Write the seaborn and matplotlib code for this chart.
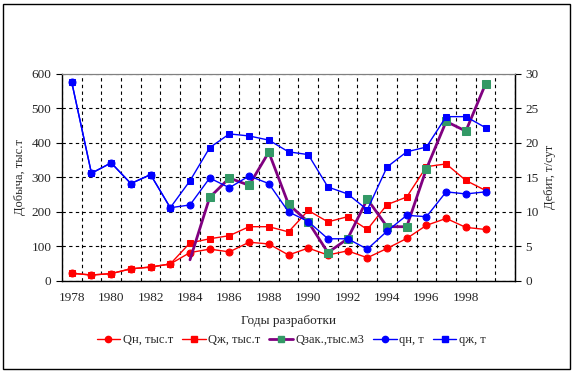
import matplotlib.pyplot as plt
import matplotlib.patches as mpatches
from matplotlib.lines import Line2D
import pandas as pd
import seaborn as sns

# ==============================================================================
# DATA
# ==============================================================================

years = list(range(1978, 2000))

# left axis, thousand tonnes / thousand m3
q_oil_total = [22, 17, 21, 35, 40, 49, 82, 92, 84, 112, 107, 75,
               95, 75, 87, 67, 94, 123, 161, 181, 155, 149]
q_liq_total = [22, 17, 21, 35, 40, 49, 110, 122, 131, 157, 157, 142,
               204, 171, 186, 149, 221, 243, 331, 339, 291, 262]
q_inj_total = [None, None, None, None, None, None, 61, 242, 298, 277, 373, 222,
               171, 82, 122, 237, 157, 157, 325, 462, 434, 571]

# right axis, t/day
rate_oil = [28.8, 15.6, 17.1, 14.1, 15.4, 10.6, 11.0, 14.9, 13.5, 15.2, 14.1, 10.0,
            8.6, 6.1, 6.1, 4.6, 7.2, 9.5, 9.3, 12.9, 12.6, 12.9]
rate_liq = [28.8, 15.6, 17.1, 14.1, 15.4, 10.6, 14.5, 19.3, 21.3, 21.0, 20.4, 18.7,
            18.3, 13.6, 12.6, 10.3, 16.5, 18.7, 19.4, 23.8, 23.8, 22.2]

labels = ["Qн, тыс.т", "Qж, тыс.т", "Qзак.,тыс.м3", "qн, т", "qж, т"]

RED = "#FF0000"
BLUE = "#0000FF"
PURPLE = "#800080"
GREEN = "#339966"


def main() -> None:
    sns.set_style("white")
    plt.rcParams["font.family"] = ["Liberation Serif", "DejaVu Serif"]
    plt.rcParams["font.size"] = 9.5

    df = pd.DataFrame({
        "idx": range(len(years)),
        "Qn": q_oil_total,
        "Qzh": q_liq_total,
        "Qzak": pd.array(q_inj_total, dtype="Float64"),
        "qn": rate_oil,
        "qzh": rate_liq,
    })
    df["Qzak"] = df["Qzak"].astype(float)

    fig = plt.figure(figsize=(5.73, 3.73), dpi=100)
    ax = fig.add_axes([0.108, 0.247, 0.791, 0.555])
    ax2 = ax.twinx()

    ms = 5
    sns.lineplot(data=df, x="idx", y="Qn", ax=ax, color=RED, lw=1, marker="o",
                 markersize=ms, markeredgecolor=RED, markerfacecolor=RED)
    sns.lineplot(data=df, x="idx", y="Qzh", ax=ax, color=RED, lw=1, marker="s",
                 markersize=ms, markeredgecolor=RED, markerfacecolor=RED)
    sub = df.dropna(subset=["Qzak"])
    sns.lineplot(data=sub, x="idx", y="Qzak", ax=ax, color=PURPLE, lw=2, marker="s",
                 markersize=ms + 0.5, markeredgecolor=GREEN, markerfacecolor=GREEN,
                 markevery=list(range(1, len(sub))))
    sns.lineplot(data=df, x="idx", y="qn", ax=ax2, color=BLUE, lw=1, marker="o",
                 markersize=ms, markeredgecolor=BLUE, markerfacecolor=BLUE)
    sns.lineplot(data=df, x="idx", y="qzh", ax=ax2, color=BLUE, lw=1, marker="s",
                 markersize=ms, markeredgecolor=BLUE, markerfacecolor=BLUE)

    n_cat = len(years) + 1
    for a in (ax, ax2):
        a.set_xlim(-0.5, n_cat - 0.5)
    ax.set_ylim(0, 600)
    ax2.set_ylim(0, 30)
    ax.set_yticks(range(0, 601, 100))
    ax2.set_yticks(range(0, 31, 5))

    ax.set_xticks(range(0, len(years), 2))
    ax.set_xticklabels([str(y) for y in years[::2]])
    ax.set_xticks([k - 0.5 for k in range(n_cat + 1)], minor=True)
    ax.tick_params(axis="x", which="major", length=0, pad=8)
    ax.tick_params(axis="x", which="minor", length=4, direction="out", color="black")
    ax.tick_params(axis="y", length=4, direction="out", left=True, color="black")
    ax2.tick_params(axis="y", length=4, direction="out", right=True, color="black")

    dash = (0, (3, 3))
    ax.grid(False)
    ax2.grid(False)
    ax.xaxis.grid(True, which="minor", color="black", linestyle=dash, lw=0.8)
    ax.yaxis.grid(True, which="major", color="black", linestyle=dash, lw=0.8)

    for side in ("left", "bottom"):
        ax.spines[side].set_color("black")
        ax.spines[side].set_linewidth(1)
    ax.spines["top"].set_color("#808080")
    ax2.spines["right"].set_color("black")
    ax2.spines["right"].set_linewidth(1)
    ax2.spines["top"].set_color("#808080")
    ax2.spines["left"].set_visible(False)
    ax2.spines["bottom"].set_visible(False)

    ax.set_xlabel("Годы разработки", labelpad=8)
    ax.set_ylabel("Добыча, тыс.т", fontsize=9)
    ax2.set_ylabel("Дебит, т/сут", fontsize=9)

    lms = 4.5
    handles = [
        Line2D([], [], color=RED, lw=1, marker="o", markersize=lms, mec=RED, mfc=RED),
        Line2D([], [], color=RED, lw=1, marker="s", markersize=lms, mec=RED, mfc=RED),
        Line2D([], [], color=PURPLE, lw=2, marker="s", markersize=lms, mec=GREEN, mfc=GREEN),
        Line2D([], [], color=BLUE, lw=1, marker="o", markersize=lms, mec=BLUE, mfc=BLUE),
        Line2D([], [], color=BLUE, lw=1, marker="s", markersize=lms, mec=BLUE, mfc=BLUE),
    ]
    fig.legend(handles, labels, loc="center", bbox_to_anchor=(0.508, 0.088), ncol=5,
               frameon=False, fontsize=9, handlelength=1.9, handletextpad=0.2,
               columnspacing=0.7)

    fig.patches.append(mpatches.Rectangle((0.006, 0.012), 0.988, 0.978, transform=fig.transFigure,
                                          fill=False, edgecolor="black", lw=1))

    fig.savefig("out.png", dpi=100)


if __name__ == "__main__":
    main()
